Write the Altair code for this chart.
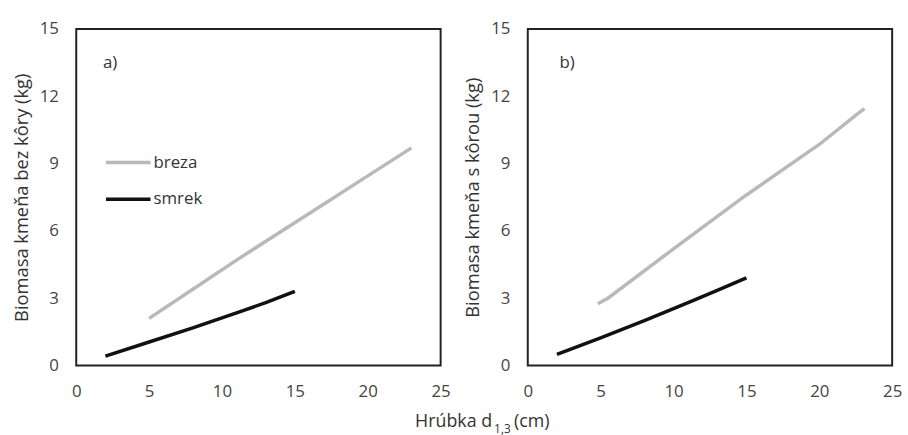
import altair as alt
import pandas as pd

# ---- data ----
x_ticks = [0, 5, 10, 15, 20, 25]
y_ticks = [0, 3, 6, 9, 12, 15]
series = ["breza", "smrek"]
colors = ["#b9b9b9", "#111111"]

a_breza_x = [5, 8, 11, 14, 17, 20, 23]
a_breza_y = [2.1, 3.4, 4.7, 5.95, 7.2, 8.45, 9.7]
a_smrek_x = [2, 5, 8, 11, 13, 15]
a_smrek_y = [0.42, 1.05, 1.68, 2.35, 2.8, 3.3]

b_breza_x = [4.8, 5.5, 10, 15, 20, 22.6, 23.1]
b_breza_y = [2.75, 3.0, 5.2, 7.6, 9.85, 11.2, 11.45]
b_smrek_x = [2, 5, 8, 11, 13, 15]
b_smrek_y = [0.5, 1.23, 2.0, 2.8, 3.35, 3.91]

y_title_a = "Biomasa kmeňa bez kôry (kg)"
y_title_b = "Biomasa kmeňa s kôrou (kg)"
panel_a = "a)"
panel_b = "b)"
x_title_main = "Hrúbka d"
x_title_sub = "1,3"
x_title_unit = "(cm)"

FONT = "Open Sans"


def make_df(bx, by, sx, sy):
    rows = []
    for i, (x, y) in enumerate(zip(bx, by)):
        rows.append({"series": "breza", "d": x, "b": y, "o": i})
    for i, (x, y) in enumerate(zip(sx, sy)):
        rows.append({"series": "smrek", "d": x, "b": y, "o": i})
    return pd.DataFrame(rows)


W, H = 368, 340


def panel(df, ytitle, label, label_x, with_legend):
    xenc = alt.X("d:Q", scale=alt.Scale(domain=[0, 25], nice=False),
                 axis=alt.Axis(values=x_ticks, title=None, ticks=False, tickSize=0,
                               domain=False, grid=False, labelFlush=False,
                               labelPadding=18, labelFontSize=17, labelFont=FONT,
                               labelColor="#444"))
    yenc = alt.Y("b:Q", scale=alt.Scale(domain=[0, 15], nice=False),
                 axis=alt.Axis(values=y_ticks, title=ytitle, ticks=False, tickSize=0,
                               domain=False, grid=False, labelPadding=18,
                               labelFontSize=17, labelFont=FONT, labelColor="#444",
                               titleFont=FONT, titleFontSize=18.5, titleFontWeight="normal",
                               titleColor="#333", titlePadding=8))
    if with_legend:
        leg = alt.Legend(title=None, orient="none", legendX=28, legendY=125,
                         direction="vertical", symbolType="stroke", symbolSize=2025,
                         symbolStrokeWidth=3.5, clipHeight=20, rowPadding=17,
                         labelFont=FONT, labelFontSize=17, labelColor="#333",
                         labelOffset=1, padding=0)
    else:
        leg = None
    lines = alt.Chart(df).mark_line(strokeWidth=3.5, interpolate="linear").encode(
        x=xenc, y=yenc,
        color=alt.Color("series:N", scale=alt.Scale(domain=series, range=colors), legend=leg),
        order="o:Q",
    )
    lab = alt.Chart(pd.DataFrame({"t": [label]})).mark_text(
        align="left", baseline="middle", font=FONT, fontSize=17, color="#333"
    ).encode(text="t:N", x=alt.value(label_x), y=alt.value(34))
    return lines + lab


left = panel(make_df(a_breza_x, a_breza_y, a_smrek_x, a_smrek_y), y_title_a, panel_a, 27, True)
right = panel(make_df(b_breza_x, b_breza_y, b_smrek_x, b_smrek_y), y_title_b, panel_b, 32, False)

t_main = alt.Chart(pd.DataFrame({"t": [x_title_main]})).mark_text(
    align="right", baseline="alphabetic", font=FONT, fontSize=18, color="#333"
).encode(text="t:N", x=alt.value(420), y=alt.value(402))
t_sub = alt.Chart(pd.DataFrame({"t": [x_title_sub]})).mark_text(
    align="left", baseline="alphabetic", font=FONT, fontSize=12, color="#333"
).encode(text="t:N", x=alt.value(422), y=alt.value(408))
t_unit = alt.Chart(pd.DataFrame({"t": [x_title_unit]})).mark_text(
    align="left", baseline="alphabetic", font=FONT, fontSize=18, color="#333"
).encode(text="t:N", x=alt.value(442), y=alt.value(402))

left = (left + t_main + t_sub + t_unit).properties(width=W, height=H)
right = right.properties(width=W, height=H)

chart = alt.hconcat(left, right, spacing=88, bounds="flush").properties(
    padding={"left": 11, "top": 17, "right": 5, "bottom": 2},
    background="white",
).configure_view(stroke="#222", strokeWidth=2)

chart.save("out.html", embed_options={"renderer": "svg", "actions": False})
